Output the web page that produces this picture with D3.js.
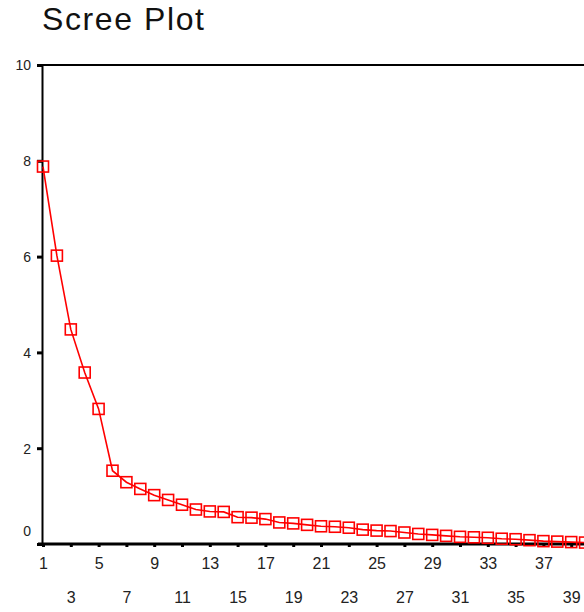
<!DOCTYPE html>
<html>
<head>
<meta charset="utf-8">
<script src="https://cdn.jsdelivr.net/npm/d3@7"></script>
<style>
  body { margin: 0; background: #fff; }
  svg { display: block; font-family: "Liberation Sans", Arial, sans-serif; }
</style>
</head>
<body>
<svg id="chart" width="584" height="612"></svg>
<script>
// component numbers and eigenvalues
var components = d3.range(1, 41);
var eigenvalues = [7.88, 6.02, 4.48, 3.58, 2.82, 1.53, 1.29, 1.15, 1.02, 0.92,
                   0.82, 0.72, 0.68, 0.67, 0.56, 0.55, 0.52, 0.45, 0.43, 0.40,
                   0.37, 0.36, 0.34, 0.30, 0.28, 0.27, 0.24, 0.21, 0.19, 0.17,
                   0.15, 0.14, 0.13, 0.11, 0.10, 0.08, 0.06, 0.05, 0.04, 0.03];
var xTicks = d3.range(1, 40, 2);
var yTicks = [0, 2, 4, 6, 8, 10];
var title = "Scree Plot";

var svg = d3.select("#chart");

var x = d3.scaleLinear().domain([1, 40]).range([43, 43 + 39 * 13.9]);
var y = d3.scaleLinear().domain([0, 10]).range([544, 65]);

// title
svg.append("text")
  .attr("x", 42)
  .attr("y", 30)
  .attr("textLength", 162)
  .attr("lengthAdjust", "spacing")
  .style("font-size", "32px")
  .style("fill", "#111")
  .text(title);

// top frame line
svg.append("line")
  .attr("x1", x(1) - 1).attr("x2", 584)
  .attr("y1", y(10)).attr("y2", y(10))
  .style("stroke", "#000").style("stroke-width", 2);

// y axis
var yAxis = svg.append("g")
  .attr("transform", "translate(" + (x(1) - 1) + ",0)")
  .call(d3.axisLeft(y).tickValues(yTicks).tickSize(5).tickSizeOuter(0).tickFormat(d3.format("d")));

yAxis.select(".domain").style("stroke", "#000").style("stroke-width", 2);
yAxis.selectAll(".tick line").style("stroke", "#000").style("stroke-width", 3);
yAxis.selectAll(".tick text")
  .attr("x", -11)
  .style("font-size", "14px")
  .style("fill", "#222")
  .attr("dy", function (d) { return d == 0 ? "-0.6em" : "0.35em"; });

// x axis
var xAxis = svg.append("g")
  .attr("transform", "translate(0," + y(0) + ")")
  .call(d3.axisBottom(x).tickValues(xTicks).tickSize(3).tickSizeOuter(0).tickFormat(d3.format("d")));

xAxis.select(".domain")
  .attr("d", "M" + (x(1) - 5) + ",0H584")
  .style("stroke", "#000").style("stroke-width", 3);
xAxis.selectAll(".tick line").style("stroke", "#000").style("stroke-width", 3);
xAxis.selectAll(".tick text")
  .attr("y", function (d, i) { return i % 2 == 0 ? 25 : 59; })
  .attr("dy", 0)
  .style("font-size", "16px")
  .style("fill", "#222");

// line
var line = d3.line()
  .x(function (d, i) { return x(components[i]); })
  .y(function (d) { return y(d); });

svg.append("path")
  .datum(eigenvalues)
  .attr("d", line)
  .style("fill", "none")
  .style("stroke", "#ff0000")
  .style("stroke-width", 1.6);

// square markers
var s = 11;
svg.selectAll("rect.marker")
  .data(eigenvalues)
  .enter().append("rect")
  .attr("class", "marker")
  .attr("x", function (d, i) { return x(components[i]) - s / 2; })
  .attr("y", function (d) { return y(d) - s / 2; })
  .attr("width", s)
  .attr("height", s)
  .style("fill", "none")
  .style("stroke", "#ff0000")
  .style("stroke-width", 1.6);
</script>
</body>
</html>
